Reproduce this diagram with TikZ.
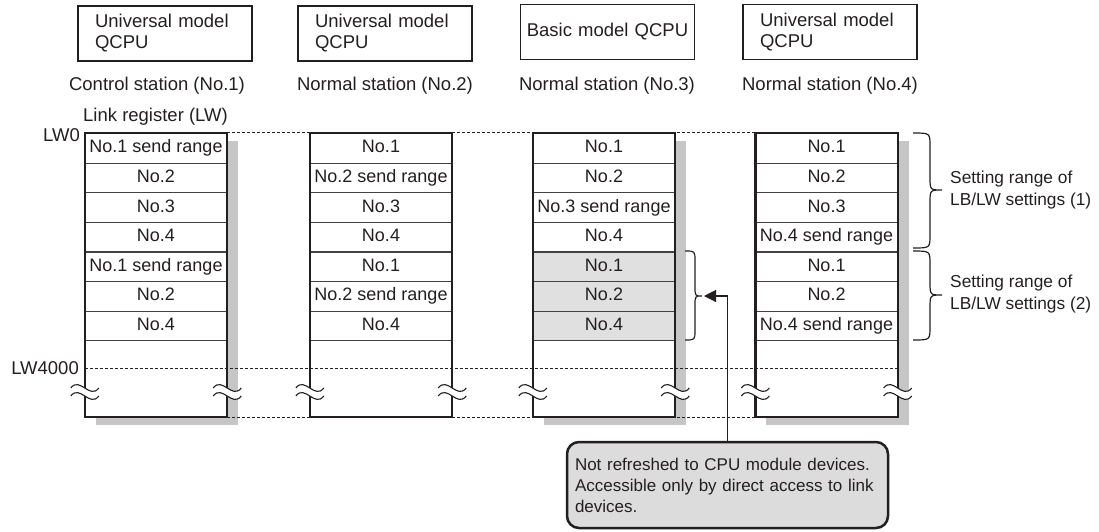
\documentclass[tikz,border=0pt]{standalone}
\usepackage{fontspec}
\setmainfont{Liberation Sans}
\usetikzlibrary{arrows.meta,calc}
\definecolor{ink}{HTML}{231F20}
\definecolor{shadowgray}{HTML}{C6C6C6}
\definecolor{cellgray}{HTML}{E0E0E0}
\definecolor{notegray}{HTML}{DCDCDC}
\begin{document}
\begin{tikzpicture}[x=1pt,y=-1pt,
  topbox/.style={draw=ink, line width=1.2pt, minimum width=174pt, minimum height=55pt, inner sep=0pt, font=\fontsize{18.5}{21}\selectfont, text=ink},
  unibox/.style={topbox, text width=140pt, align=left, inner xsep=17pt},
  basicbox/.style={topbox, text width=170pt, align=center, inner xsep=2pt},
  station/.style={font=\fontsize{18.5}{21}\selectfont, text=ink, inner sep=0pt},
  framebox/.style={minimum width=142pt, minimum height=284pt, inner sep=0pt},
  border/.style={draw=ink, line width=2.4pt},
  cell/.style={draw=ink!85, line width=1.2pt, minimum width=142pt, minimum height=29.6pt, inner sep=0pt, text height=13pt, text depth=4pt, font=\fontsize{18}{20}\selectfont, text=ink, anchor=north},
  graycell/.style={cell, fill=cellgray},
  dotline/.style={draw=ink, line width=1pt, dash pattern=on 3pt off 2pt},
  bracestyle/.style={draw=ink, line width=1.2pt},
  sidelabel/.style={font=\fontsize{17.3}{22}\selectfont, text=ink, align=left, anchor=west, inner sep=0pt},
  brk/.pic={
    \fill[white] (-14,-4) .. controls (-5,-16) and (5,8) .. (14,-4) -- (14,4) .. controls (5,16) and (-5,-8) .. (-14,4) -- cycle;
    \draw[ink, line width=1.1pt] (-14,-4) .. controls (-5,-16) and (5,8) .. (14,-4);
    \draw[ink, line width=1.1pt] (-14,4) .. controls (-5,-8) and (5,16) .. (14,4);
  }
]
\useasboundingbox (0,0) rectangle (1099,531);

% top boxes
\node[unibox] (cpu1) at (165,33.5) {Universal model\\QCPU};
\node[unibox] (cpu2) at (385,33.5) {Universal model\\QCPU};
\node[basicbox] (cpu3) at (607.5,32) {Basic model QCPU};
\node[unibox] (cpu4) at (830,32) {Universal model\\QCPU};

% station labels
\node[station] (st1) at (157,86) {Control station (No.1)};
\node[station] (st2) at (385,86) {Normal station (No.2)};
\node[station] (st3) at (607,86) {Normal station (No.3)};
\node[station] (st4) at (830,86) {Normal station (No.4)};
\node[station] (lreg) at (155.5,116.5) {Link register (LW)};

% frames (invisible placeholders)
\node[framebox] (t1) at (156,275) {};
\node[framebox] (t2) at (381,275) {};
\node[framebox] (t3) at (604,275) {};
\node[framebox] (t4) at (826.5,275) {};

% shadows
\foreach \t in {t1,t3,t4}{
  \fill[shadowgray] ([shift={(11,8)}]\t.north west) rectangle ([shift={(11,8)}]\t.south east);
}
% white bodies
\foreach \t in {t1,t2,t3,t4}{
  \fill[white] (\t.north west) rectangle (\t.south east);
}

% left labels
\node[station, anchor=east] (lw0) at (80,135) {LW0};
\node[station, anchor=east] (lw4000) at (79,368) {LW4000};

% dotted lines
\draw[dotline] (t1.north east) -- (t4.north west);
\draw[dotline] (lw4000.east -| t1.west) -- (lw4000.east -| t4.east);
\draw[dotline] (t1.south east) -- (t4.south west);

% cells
\def\rh{29.6}
\foreach \txt [count=\i from 0] in {No.1 send range,No.2,No.3,No.4,No.1 send range,No.2,No.4}
  \node[cell] (a\i) at (156,133+\i*\rh) {\txt};
\foreach \txt [count=\i from 0] in {No.1,No.2 send range,No.3,No.4,No.1,No.2 send range,No.4}
  \node[cell] (b\i) at (381,133+\i*\rh) {\txt};
\foreach \txt [count=\i from 0] in {No.1,No.2,No.3 send range,No.4}
  \node[cell] (c\i) at (604,133+\i*\rh) {\txt};
\foreach \txt [count=\i from 4] in {No.1,No.2,No.4}
  \node[graycell] (c\i) at (604,133+\i*\rh) {\txt};
\foreach \txt [count=\i from 0] in {No.1,No.2,No.3,No.4 send range,No.1,No.2,No.4 send range}
  \node[cell] (d\i) at (826.5,133+\i*\rh) {\txt};

% frame borders
\foreach \t in {t1,t2,t3,t4}{
  \draw[border] (\t.north west) rectangle (\t.south east);
}

% breaks
\foreach \t in {t1,t2,t3,t4}{
  \pic at (\t.west |- 0,392) {brk};
  \pic at (\t.east |- 0,392) {brk};
}

% brace at station 3
\draw[bracestyle] (685,251) .. controls (695,251) .. (695,261) -- (695,286) .. controls (695,296) .. (702,296) .. controls (695,296) .. (695,306) -- (695,330) .. controls (695,340) .. (685,340);
\coordinate (b3tip) at (704,296);

% right braces
\draw[bracestyle] (913,133) .. controls (930,133) .. (930,146) -- (930,177) .. controls (930,190) .. (942,190) .. controls (930,190) .. (930,203) -- (930,235) .. controls (930,248) .. (913,248);
\draw[bracestyle] (913,251) .. controls (930,251) .. (930,264) -- (930,282) .. controls (930,295) .. (942,295) .. controls (930,295) .. (930,308) -- (930,327) .. controls (930,340) .. (913,340);
\node[sidelabel] (sr1) at (950,190) {Setting range of\\LB/LW settings (1)};
\node[sidelabel] (sr2) at (950,294) {Setting range of\\LB/LW settings (2)};

% note
\node[draw=ink, line width=2.5pt, fill=notegray, rounded corners=12pt, text width=305pt, inner xsep=8pt, inner ysep=0pt, minimum height=86pt, align=left, font=\fontsize{17}{21}\selectfont, text=ink] (note) at (727.5,485) {Not refreshed to CPU module devices.\\Accessible only by direct access to link\\devices.};
\draw[draw=ink, line width=1.2pt, -{Triangle[length=12pt,width=12pt]}] (note.north) |- (b3tip);
\end{tikzpicture}
\end{document}
